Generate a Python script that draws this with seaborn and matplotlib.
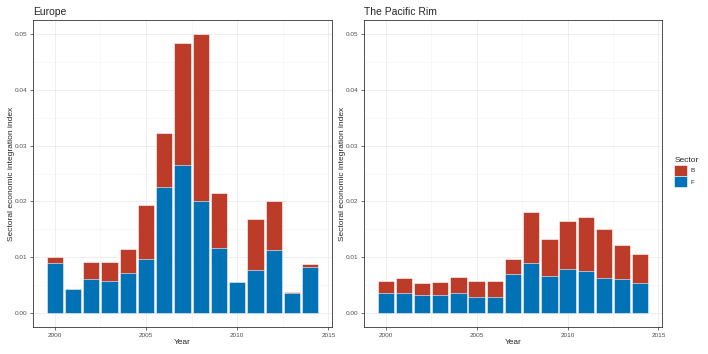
import numpy as np
import pandas as pd
import seaborn as sns
import matplotlib
matplotlib.use("Agg")
import matplotlib.pyplot as plt
from matplotlib.patches import Patch
from matplotlib.ticker import MultipleLocator

years = list(range(2000, 2015))
regions = ["Europe", "The Pacific Rim"]
sectors = ["B", "F"]

europe_F = [0.00905, 0.00429, 0.00613, 0.00583, 0.00714, 0.00964, 0.02256, 0.02648,
            0.02000, 0.01161, 0.00548, 0.00774, 0.01137, 0.00357, 0.00833]
europe_total = [0.01012, 0.00429, 0.00923, 0.00911, 0.01143, 0.01935, 0.03220, 0.04843,
                0.04991, 0.02149, 0.00560, 0.01685, 0.02012, 0.00375, 0.00881]
pacific_F = [0.00351, 0.00363, 0.00315, 0.00315, 0.00357, 0.00280, 0.00280, 0.00702,
             0.00905, 0.00655, 0.00798, 0.00756, 0.00625, 0.00613, 0.00536]
pacific_total = [0.00577, 0.00619, 0.00530, 0.00565, 0.00637, 0.00571, 0.00577, 0.00976,
                 0.01810, 0.01333, 0.01655, 0.01726, 0.01500, 0.01220, 0.01054]

colors = {"B": "#BC3C29", "F": "#0072B5"}

sns.set_theme(style="white")
plt.rcParams["font.family"] = ["Liberation Sans", "DejaVu Sans"]

fig = plt.figure(figsize=(7.08, 3.54), dpi=100)
W, H = 708, 354
axes = [fig.add_axes([33 / W, 27 / H, 299 / W, 307 / H]),
        fig.add_axes([364 / W, 27 / H, 298 / W, 307 / H])]

data = {"Europe": (europe_F, europe_total), "The Pacific Rim": (pacific_F, pacific_total)}

for ax, reg in zip(axes, regions):
    F, T = data[reg]
    df = pd.DataFrame({"Year": years, "F": F, "Total": T})
    ax.set_axisbelow(True)
    sns.barplot(data=df, x="Year", y="Total", native_scale=True, width=0.9,
                color=colors["B"], saturation=1, edgecolor="white", linewidth=0.4,
                errorbar=None, ax=ax)
    sns.barplot(data=df, x="Year", y="F", native_scale=True, width=0.9,
                color=colors["F"], saturation=1, edgecolor="white", linewidth=0.4,
                errorbar=None, ax=ax)
    ax.set_xlim(1998.805, 2015.195)
    ax.set_ylim(-0.0025, 0.0525)
    ax.xaxis.set_major_locator(MultipleLocator(5))
    ax.xaxis.set_minor_locator(MultipleLocator(2.5))
    ax.yaxis.set_major_locator(MultipleLocator(0.01))
    ax.yaxis.set_minor_locator(MultipleLocator(0.005))
    ax.set_xticks([2000, 2005, 2010, 2015])
    ax.set_xticklabels(["2000", "2005", "2010", "2015"])
    ax.set_yticks([0.0, 0.01, 0.02, 0.03, 0.04, 0.05])
    ax.set_yticklabels(["0.00", "0.01", "0.02", "0.03", "0.04", "0.05"])
    ax.grid(True, which="major", color="#EBEBEB", linewidth=0.6)
    ax.grid(True, which="minor", color="#F4F4F4", linewidth=0.4)
    ax.tick_params(axis="both", which="major", length=2.5, width=0.5, color="#333333",
                   labelsize=4.6, labelcolor="#4D4D4D", pad=1.5, bottom=True, left=True)
    ax.tick_params(axis="both", which="minor", length=0)
    for s in ax.spines.values():
        s.set_color("#333333")
        s.set_linewidth(0.6)
        s.set_visible(True)
    ax.set_xlabel("Year", fontsize=6, labelpad=1)
    ax.set_ylabel("Sectoral economic integration index", fontsize=6)
    ax.yaxis.set_label_coords(-0.06, 0.5)
    ax.set_title(reg, fontsize=7.5, loc="left", pad=3.5)

handles = [Patch(facecolor=colors[s], edgecolor="white", linewidth=0.4, label=s) for s in sectors]
leg = fig.legend(handles=handles, title="Sector", loc="upper left",
                 bbox_to_anchor=(670 / W, 1 - 153 / H), frameon=False,
                 fontsize=4.6, title_fontsize=6, handlelength=2.0, handleheight=2.3,
                 handletextpad=0.5, labelspacing=0.05, borderpad=0.2)
leg._legend_box.align = "left"

fig.savefig("out.png", dpi=100)
